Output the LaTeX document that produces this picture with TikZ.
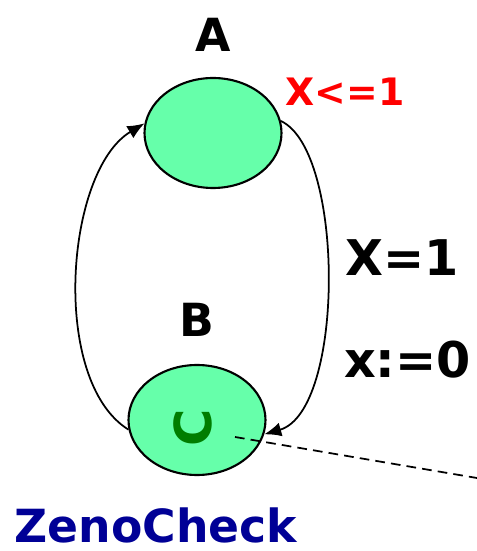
\documentclass[tikz,border=0pt]{standalone}
\usepackage{fontspec}
\setmainfont{DejaVu Sans}
\usepackage{xcolor}
\usetikzlibrary{arrows.meta,shapes.geometric}
\definecolor{locgreen}{RGB}{102,255,170}
\definecolor{zenoblue}{RGB}{0,0,150}
\definecolor{cgreen}{RGB}{0,125,0}
\tikzset{
  loc/.style={ellipse, draw, line width=1.2pt, fill=locgreen, minimum width=2.74cm, minimum height=2.2cm, inner sep=0pt},
  lbl/.style={font=\bfseries\fontsize{26}{30}\selectfont},
  edge/.style={line width=1pt, -{Latex[length=3.4mm,width=2.8mm]}}
}
\begin{document}
\begin{tikzpicture}
    \useasboundingbox (0,0) rectangle (9.54,11.02);
    % Locations
    \node[loc] (A) at (4.26,8.36) {};
    \node[loc] (B) at (3.94,2.62) {};
    % Location names
    \node[lbl] (nameA) at (4.26,10.32) {A};
    \node[lbl] (nameB) at (3.94,4.62) {B};
    % Invariant
    \node[font=\bfseries\fontsize{21.5}{25}\selectfont, text=red] (inv) at (6.9,9.18) {X<=1};
    % Committed mark
    \node[font=\bfseries\fontsize{29}{32}\selectfont, text=cgreen, rotate=90] (comm) at (3.86,2.46) {C};
    % Transitions
    \draw[edge] (A.10) .. controls (6.9,8.0) and (6.9,2.8) .. (B.-12);
    \draw[edge] (B.188) .. controls (1.0,3.4) and (1.3,7.6) .. (A.172);
    \node[font=\bfseries\fontsize{28}{32}\selectfont] (guard) at (8.05,5.86) {X=1};
    \node[font=\bfseries\fontsize{28}{32}\selectfont] (reset) at (8.15,3.82) {x:=0};
    % Pointer to the query
    \coordinate (tip) at (9.54,1.46);
    \draw[line width=1pt, dash pattern=on 5.5pt off 3.5pt] (4.7,2.28) -- (tip);
    % Name
    \node[font=\bfseries\fontsize{26}{30}\selectfont, text=zenoblue] (zeno) at (3.12,0.52) {ZenoCheck};
\end{tikzpicture}
\end{document}
